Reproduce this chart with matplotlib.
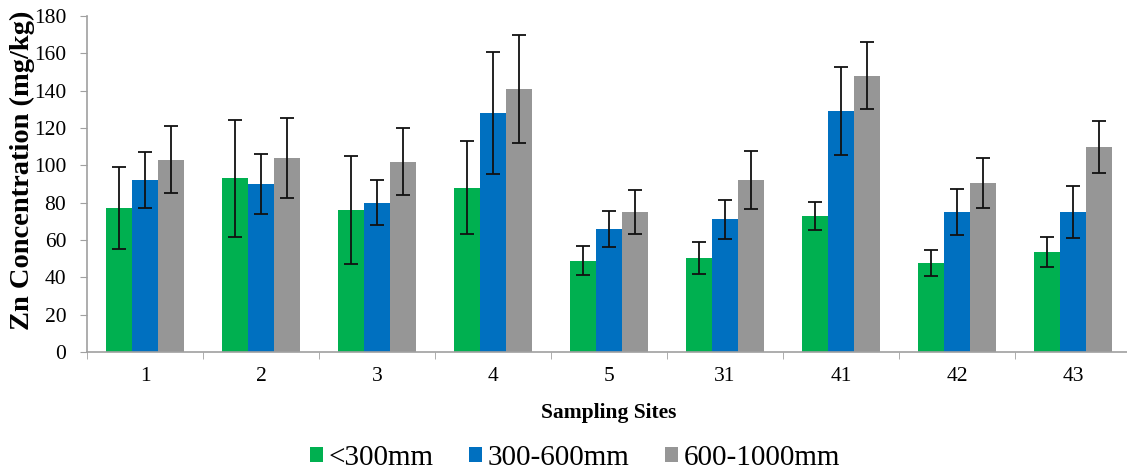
import numpy as np
import matplotlib.pyplot as plt

plt.rcParams['font.family'] = ['Liberation Serif', 'DejaVu Serif']

# sites and depth classes
sites = ['1', '2', '3', '4', '5', '31', '41', '42', '43']
depths = ['<300mm', '300-600mm', '600-1000mm']

# mean Zn (mg/kg) per depth
zn_shallow = [77, 93, 76, 88, 49, 50.5, 73, 47.5, 53.5]
zn_mid = [92, 90, 80, 128, 66, 71, 129, 75, 75]
zn_deep = [103, 104, 102, 141, 75, 92, 148, 90.5, 110]

# error bar half-widths
err_shallow = [22, 31.5, 29, 25, 8, 8.5, 7.5, 7, 8]
err_mid = [15, 16, 12, 32.5, 9.5, 10.5, 23.5, 12.5, 14]
err_deep = [18, 21.5, 18, 29, 12, 15.5, 18, 13.5, 14]

colors = ['#00b050', '#0070c0', '#969696']

fig = plt.figure(figsize=(11.27, 4.73), dpi=100)
ax = fig.add_axes([87 / 1127, 121 / 473, 1044 / 1127, 336 / 473])

x = np.arange(len(sites))
w = 0.222
series = [(zn_shallow, err_shallow), (zn_mid, err_mid), (zn_deep, err_deep)]
for i, (vals, errs) in enumerate(series):
    ax.bar(x + (i - 1) * w, vals, w, color=colors[i], label=depths[i],
           yerr=errs, error_kw=dict(ecolor='#111111', elinewidth=1.3,
                                     capsize=5, capthick=1.3))

ax.set_xlim(-0.5, len(sites) - 0.5)
ax.set_ylim(0, 180)
ax.set_yticks(range(0, 181, 20))
ax.set_xticks(x)
ax.set_xticklabels(sites)
ax.set_xticks(np.arange(-0.5, len(sites), 1), minor=True)
ax.tick_params(axis='x', which='major', length=0, labelsize=15.5, pad=11)
ax.tick_params(axis='x', which='minor', length=5, color='#a0a0a0')
ax.tick_params(axis='y', length=5, color='#a0a0a0', labelsize=15.5, pad=10)

for s in ['top', 'right']:
    ax.spines[s].set_visible(False)
for s in ['left', 'bottom']:
    ax.spines[s].set_color('#a0a0a0')
    ax.spines[s].set_linewidth(1.2)

ax.set_ylabel('Zn Concentration (mg/kg)', fontsize=20.5, fontweight='bold')
ax.yaxis.set_label_coords((35 - 87) / 1044, (352 - 170) / 336)
ax.set_xlabel('Sampling Sites', fontsize=15.5, fontweight='bold')
ax.xaxis.set_label_coords((609 - 87) / 1044, (352 - 403) / 336)

fig.legend(loc='center', bbox_to_anchor=(575 / 1127, 1 - 458 / 473), ncol=3,
           frameon=False, fontsize=21, handlelength=0.45, handleheight=0.45,
           handletextpad=0.2, columnspacing=1.2)

fig.savefig('out.png', dpi=100, facecolor='white')
